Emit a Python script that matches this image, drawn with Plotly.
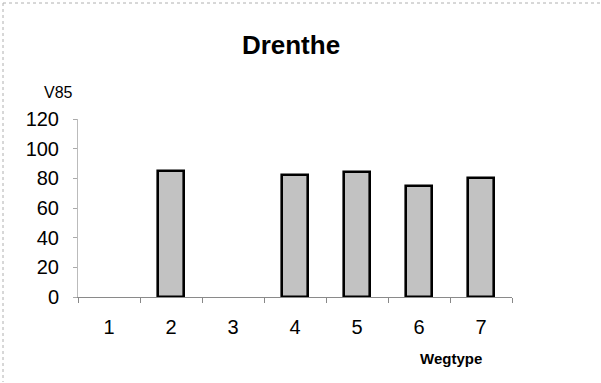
import plotly.graph_objects as go

# Wegtype categories and V85 values (no measurement for types 1 and 3)
wegtypes = ["1", "2", "3", "4", "5", "6", "7"]
v85 = [None, 85, None, 82, 84, 75, 80]
y_ticks = [0, 20, 40, 60, 80, 100, 120]

W, H = 601, 383
L, R, T, B = 78, 89, 119, 86
pw, ph = W - L - R, H - T - B


def px_x(p):
    return (p - L) / pw


def px_y(p):
    return 1 - (p - T) / ph


font = "Arial, Liberation Sans, sans-serif"

fig = go.Figure(
    go.Bar(
        x=wegtypes,
        y=v85,
        width=0.42,
        marker=dict(
            color="#c2c2c2",
            line=dict(color="#000000", width=2.6),
        ),
        hoverinfo="x+y",
    )
)

fig.update_layout(
    width=W,
    height=H,
    autosize=False,
    margin=dict(l=L, r=R, t=T, b=B),
    paper_bgcolor="white",
    plot_bgcolor="white",
    showlegend=False,
    bargap=0,
    title=dict(
        text="<b>Drenthe</b>",
        font=dict(family=font, size=26, color="#000"),
        x=px_x(291), xref="paper", xanchor="center",
        y=1 - 45 / H, yref="container", yanchor="middle",
    ),
    annotations=[
        dict(text="V85", x=px_x(58), y=px_y(92), xref="paper", yref="paper",
             showarrow=False, font=dict(family=font, size=16, color="#000"),
             xanchor="center", yanchor="middle"),
        dict(text="<b>Wegtype</b>", x=px_x(451), y=px_y(358), xref="paper",
             yref="paper", showarrow=False,
             font=dict(family=font, size=15, color="#000"),
             xanchor="center", yanchor="middle"),
    ],
    shapes=[
        # thin dotted frame along top and left edges
        dict(type="line", xref="paper", yref="paper",
             x0=px_x(3), x1=px_x(600), y0=px_y(3), y1=px_y(3),
             line=dict(color="#b0b0b0", width=1, dash="dot")),
        dict(type="line", xref="paper", yref="paper",
             x0=px_x(3), x1=px_x(3), y0=px_y(3), y1=px_y(382),
             line=dict(color="#b0b0b0", width=1, dash="dot")),
    ],
)

fig.update_xaxes(
    type="category",
    categoryorder="array",
    categoryarray=wegtypes,
    range=[-0.5, 6.5],
    tickson="boundaries",
    ticks="outside",
    ticklen=5,
    tickcolor="#888888",
    tickwidth=1,
    showline=True,
    linecolor="#8a8a8a",
    linewidth=1.2,
    showgrid=False,
    zeroline=False,
    ticklabelstandoff=12,
    tickfont=dict(family=font, size=20, color="#000"),
)

fig.update_yaxes(
    range=[0, 120],
    tickvals=y_ticks,
    ticktext=[str(v) for v in y_ticks],
    ticks="outside",
    ticklen=4,
    tickcolor="#aaaaaa",
    tickwidth=1,
    showline=True,
    linecolor="#bbbbbb",
    linewidth=1,
    showgrid=False,
    zeroline=False,
    ticklabelstandoff=10,
    tickfont=dict(family=font, size=20, color="#000"),
)

fig.write_html("out.html")
